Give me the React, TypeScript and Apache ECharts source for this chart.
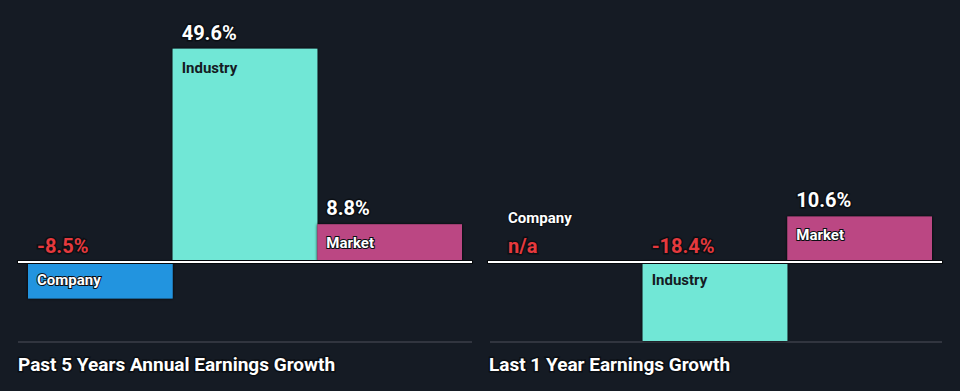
import React, { useEffect, useRef } from 'react';
import * as echarts from 'echarts';

const categories = ['Company', 'Industry', 'Market'];
const past5YearsGrowth: (number | null)[] = [-8.5, 49.6, 8.8];
const last1YearGrowth: (number | null)[] = [null, -18.4, 10.6];
const panelTitles = ['Past 5 Years Annual Earnings Growth', 'Last 1 Year Earnings Growth'];
const axisMin = -20;
const axisMax = 50;

const BG = '#151b24';
const barColors = ['#2394df', '#71e7d6', '#bb4783'];
const catLabelColors = ['#ffffff', '#151b24', '#ffffff'];
const RED = '#e5393d';
const HALO = '#0b0f14';
const FONT = 'Roboto, "Noto Sans", sans-serif';

const fmt = (v: number) => `${v.toFixed(1)}%`;

function makeRender(values: (number | null)[]) {
  return (params: any, api: any) => {
    const i = params.dataIndex;
    const v = values[i];
    const bandW = api.size([1, 0])[0];
    const zero = api.coord([i, 0]);
    const x0 = zero[0] - bandW / 2;
    const y0 = zero[1];
    const children: any[] = [];
    const txt = (text: string, x: number, y: number, size: number, fill: string, halo: number) => ({
      type: 'text',
      z2: 20,
      style: {
        text,
        x,
        y,
        fill,
        fontSize: size,
        fontWeight: 'bold',
        fontFamily: FONT,
        align: 'left',
        verticalAlign: 'middle',
        stroke: halo > 0 ? HALO : undefined,
        lineWidth: halo,
      },
    });
    if (v === null || v === undefined) {
      children.push(txt(categories[i], x0 + 10, y0 - 44, 15, '#ffffff', 2));
      children.push(txt('n/a', x0 + 10, y0 - 16, 20, RED, 3));
    } else {
      const top = api.coord([i, v])[1];
      const rectY = Math.min(top, y0);
      const h = Math.abs(top - y0);
      children.push({
        type: 'rect',
        z2: 5,
        shape: { x: x0, y: rectY, width: bandW, height: h },
        style: { fill: barColors[i], shadowBlur: 3, shadowColor: 'rgba(0,0,0,0.9)' },
      });
      const valueY = v >= 0 ? top - 16 : y0 - 16;
      const catY = v >= 0 ? top + 19 : y0 + 18;
      children.push(txt(fmt(v), x0 + 9, valueY, 20, v < 0 ? RED : '#ffffff', 3));
      children.push(
        txt(categories[i], x0 + 9, catY, 15, catLabelColors[i], catLabelColors[i] === '#ffffff' ? 2 : 0)
      );
    }
    if (i === values.length - 1) {
      const cs = params.coordSys;
      children.push({
        type: 'line',
        z2: 14,
        shape: { x1: cs.x - 11, y1: y0, x2: cs.x + cs.width + 11, y2: y0 },
        style: { stroke: '#05080b', lineWidth: 4 },
      });
      children.push({
        type: 'line',
        z2: 15,
        shape: { x1: cs.x - 10, y1: y0, x2: cs.x + cs.width + 10, y2: y0 },
        style: { stroke: '#ffffff', lineWidth: 2 },
      });
    }
    return { type: 'group', children };
  };
}

export default function App() {
  const ref = useRef<HTMLDivElement>(null);
  useEffect(() => {
    document.body.style.margin = '0';
    document.body.style.background = BG;
    const chart = echarts.init(ref.current!, null, { renderer: 'svg' });
    const panels = [past5YearsGrowth, last1YearGrowth];
    const lefts = [28, 498];
    chart.setOption({
      animation: false,
      backgroundColor: BG,
      grid: lefts.map((l) => ({ left: l, width: 434, top: 47, height: 301 })),
      xAxis: lefts.map((_, g) => ({
        type: 'category',
        data: categories,
        gridIndex: g,
        show: false,
      })),
      yAxis: lefts.map((_, g) => ({
        type: 'value',
        gridIndex: g,
        min: axisMin,
        max: axisMax,
        interval: 10,
        show: false,
        splitLine: { show: false },
      })),
      title: panelTitles.map((t, g) => ({
        text: t,
        left: g === 0 ? 18 : 489,
        top: 355,
        padding: 0,
        textStyle: {
          color: '#ffffff',
          fontSize: 19,
          fontWeight: 'bold',
          fontFamily: FONT,
          textBorderColor: HALO,
          textBorderWidth: 3,
        },
      })),
      graphic: [
        { type: 'line', shape: { x1: 18, y1: 342, x2: 472, y2: 342 }, style: { stroke: '#3b3f48', lineWidth: 1.5 }, z: 1 },
        { type: 'line', shape: { x1: 490, y1: 342, x2: 942, y2: 342 }, style: { stroke: '#3b3f48', lineWidth: 1.5 }, z: 1 },
      ],
      series: panels.map((vals, g) => ({
        type: 'custom',
        xAxisIndex: g,
        yAxisIndex: g,
        clip: false,
        z: 5,
        renderItem: makeRender(vals),
        data: categories.map((_, i) => [i, vals[i] ?? 0]),
      })),
    });
    return () => chart.dispose();
  }, []);
  return <div ref={ref} style={{ position: 'absolute', left: 0, top: 0, width: 960, height: 391 }} />;
}
